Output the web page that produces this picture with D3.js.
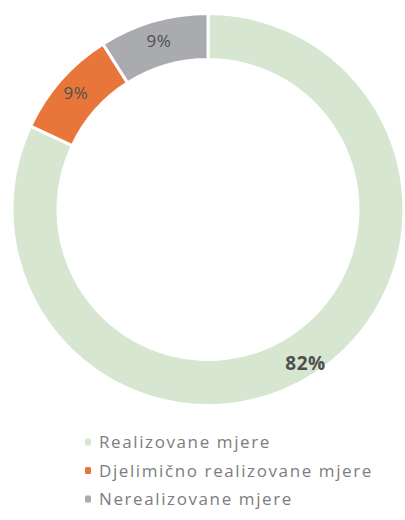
<!DOCTYPE html>
<meta charset="utf-8">
<style>
body { margin: 0; background: #fff; }
.legend text { font: 17px "Open Sans", sans-serif; fill: #7d7d7d; letter-spacing: 1.6px; }
.labels text { font-family: "Open Sans", sans-serif; fill: #4f4f4f; }
</style>
<svg width="405" height="520"></svg>
<script src="https://d3js.org/d3.v7.min.js"></script>
<script>

var categories = ["Realizovane mjere", "Djelimično realizovane mjere", "Nerealizovane mjere"];
var values = [82, 9, 9];
var colors = ["#d6e6d0", "#e8763a", "#a9abaf"];

var svg = d3.select("svg"),
    cx = 208, cy = 209.5,
    outer = 196, inner = 150;

var data = categories.map(function(c, i) { return {name: c, value: values[i], color: colors[i]}; });

var pie = d3.pie()
    .sort(null)
    .value(function(d) { return d.value; });

var arc = d3.arc().innerRadius(inner).outerRadius(outer);

var g = svg.append("g").attr("transform", "translate(" + cx + "," + cy + ")");

var arcs = pie(data);

g.selectAll("path")
    .data(arcs)
    .enter().append("path")
    .attr("d", arc)
    .attr("fill", function(d) { return d.data.color; })
    .attr("stroke", "#fff")
    .attr("stroke-width", 3);

// small slices get their label a bit nearer the middle of the ring than the big one
var labelArc = d3.arc().innerRadius(176).outerRadius(176);
var bigArc = d3.arc().innerRadius(182).outerRadius(182);

g.append("g").attr("class", "labels")
  .selectAll("text")
    .data(arcs)
    .enter().append("text")
    .attr("transform", function(d, i) { return "translate(" + (i == 0 ? bigArc : labelArc).centroid(d) + ")"; })
    .attr("text-anchor", "middle")
    .attr("dy", "0.36em")
    .style("font-size", function(d, i) { return i == 0 ? "19px" : "17px"; })
    .style("font-weight", function(d, i) { return i == 0 ? "bold" : "normal"; })
    .style("letter-spacing", "0.5px")
    .text(function(d) { return d.data.value + "%"; });

var legend = svg.append("g")
    .attr("class", "legend")
    .attr("transform", "translate(85,442)");

var item = legend.selectAll("g")
    .data(data)
    .enter().append("g")
    .attr("transform", function(d, i) { return "translate(0," + (i * 28.5) + ")"; });

item.append("rect")
    .attr("x", 0)
    .attr("y", -3.5)
    .attr("width", 6)
    .attr("height", 7)
    .attr("rx", 1.5)
    .attr("fill", function(d) { return d.color; });

item.append("text")
    .attr("x", 14)
    .attr("y", 0)
    .attr("dy", "0.36em")
    .text(function(d) { return d.name; });

</script>
